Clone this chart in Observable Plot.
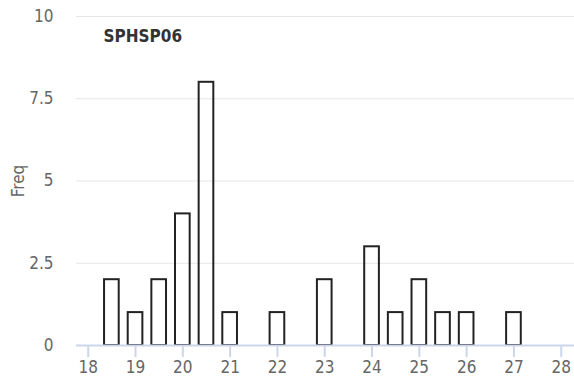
<!DOCTYPE html>
<html>
<head>
<meta charset="utf-8">
<script src="https://cdn.jsdelivr.net/npm/d3@7"></script>
<script src="https://cdn.jsdelivr.net/npm/@observablehq/plot@0.6"></script>
<style>
  html, body { margin: 0; padding: 0; background: #fff; }
  #chart svg { display: block; }
</style>
</head>
<body>
<div id="chart"></div>
<script>
const title = "SPHSP06";
const yLabel = "Freq";
const binCenters = [18.5, 19, 19.5, 20, 20.5, 21, 22, 23, 24, 24.5, 25, 25.5, 26, 27];
const counts = [2, 1, 2, 4, 8, 1, 1, 2, 3, 1, 2, 1, 1, 1];
const xTicks = [18, 19, 20, 21, 22, 23, 24, 25, 26, 27, 28];
const yTicks = [0, 2.5, 5, 7.5, 10];

const halfWidth = 0.155;
const data = binCenters.map((x, i) => ({x, n: counts[i]}));

const chart = Plot.plot({
  width: 574,
  height: 383,
  marginLeft: 76,
  marginRight: 0,
  marginTop: 16,
  marginBottom: 38,
  style: {fontFamily: "'DejaVu Sans Condensed', 'DejaVu Sans', sans-serif", fontStretch: "condensed", fontSize: "17px", background: "#fff"},
  x: {domain: [17.752, 28.28]},
  y: {domain: [0, 10]},
  marks: [
    Plot.gridY(yTicks, {stroke: "#e6e6e6", strokeOpacity: 1, strokeWidth: 1}),
    Plot.axisY(yTicks, {tickSize: 0, tickPadding: 23, fill: "#666", fontSize: 17, label: null, tickFormat: d => String(d)}),
    Plot.rect(data, {x1: d => d.x - halfWidth, x2: d => d.x + halfWidth, y1: 0, y2: "n", fill: "none", stroke: "#222", strokeWidth: 2}),
    Plot.ruleY([0], {stroke: "#ccd6eb", strokeWidth: 2}),
    Plot.axisX(xTicks, {tickSize: 12, tickPadding: 3, stroke: "#ccd6eb", strokeWidth: 2, fill: "#666", fontSize: 17, label: null, tickFormat: d => String(d)}),
    Plot.text([yLabel], {frameAnchor: "left", dx: -57.5, rotate: -90, textAnchor: "middle", lineAnchor: "middle", fill: "#666", fontSize: 17}),
    Plot.text([title], {frameAnchor: "top-left", dx: 27, dy: 13, textAnchor: "start", lineAnchor: "top", fill: "#333", fontWeight: "bold", fontSize: 17})
  ]
});
document.getElementById("chart").appendChild(chart);
</script>
</body>
</html>
